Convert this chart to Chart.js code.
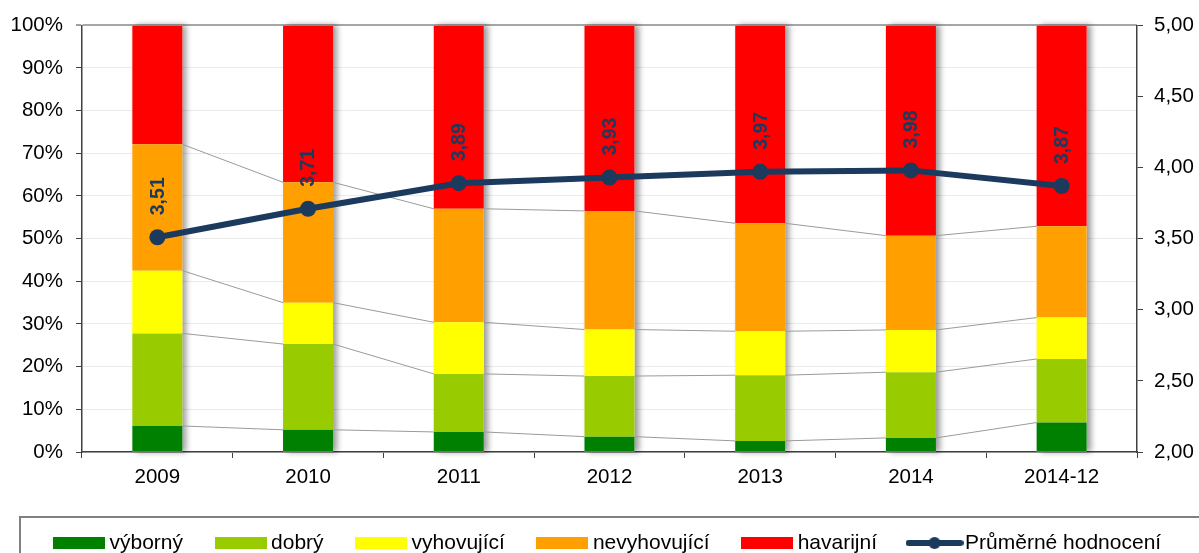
<!DOCTYPE html>
<html>
<head>
<meta charset="utf-8">
<script src="https://cdn.jsdelivr.net/npm/chart.js@4/dist/chart.umd.min.js"></script>
<style>
  html, body { margin: 0; padding: 0; background: #fff; }
</style>
</head>
<body>
<canvas id="myChart" width="1199" height="553"></canvas>
<script>
// data (percent of each year's stack)
var categories = ['2009', '2010', '2011', '2012', '2013', '2014', '2014-12'];
var vyborny = [6.1, 5.2, 4.7, 3.6, 2.6, 3.3, 6.9];
var dobry = [21.7, 20.1, 13.6, 14.2, 15.4, 15.4, 14.9];
var vyhovujici = [14.7, 9.7, 12.1, 10.9, 10.3, 9.9, 9.7];
var nevyhovujici = [29.6, 28.2, 26.6, 27.8, 25.3, 22.1, 21.4];
var havarijni = [27.9, 36.8, 43.0, 43.5, 46.4, 49.3, 47.1];
var prumer = [3.51, 3.71, 3.89, 3.93, 3.97, 3.98, 3.87];
// axis ranges: [min, max, step]
var pctAxis = [0, 100, 10];
var avgAxis = [2, 5, 0.5];

var FONT = '"Liberation Sans", Arial, sans-serif';
var NAVY = '#1c3a5e';
var LEGEND_SHIFT = 11.5;

function comma(v) { return v.toFixed(2).replace('.', ','); }

// legend swatches
function swatch(color) {
  var c = document.createElement('canvas');
  c.width = 52; c.height = 12;
  var g = c.getContext('2d');
  g.fillStyle = color;
  g.fillRect(0, 0, 52, 12);
  return c;
}
function lineSwatch(color) {
  var c = document.createElement('canvas');
  c.width = 58; c.height = 16;
  var g = c.getContext('2d');
  g.strokeStyle = color; g.fillStyle = color;
  g.lineWidth = 6; g.lineCap = 'round';
  g.beginPath(); g.moveTo(3, 8); g.lineTo(55, 8); g.stroke();
  g.beginPath(); g.arc(29, 8, 6, 0, Math.PI * 2); g.fill();
  return c;
}

// soft shadow to the right of each stacked column
var barShadow = {
  id: 'barShadow',
  beforeDatasetsDraw: function(chart) {
    var ctx = chart.ctx;
    var first = chart.getDatasetMeta(0).data;
    var last = chart.getDatasetMeta(4).data;
    ctx.save();
    ctx.shadowColor = 'rgba(0,0,0,0.4)';
    ctx.shadowBlur = 6;
    ctx.shadowOffsetX = 4;
    ctx.fillStyle = '#fff';
    first.forEach(function(el, i) {
      var top = last[i].y;
      ctx.fillRect(el.x - el.width / 2, top, el.width, el.base - top);
    });
    ctx.restore();
  }
};

// thin grey series lines between the columns, under the average line
var seriesLines = {
  id: 'seriesLines',
  beforeDatasetDraw: function(chart, args) {
    if (args.meta.type !== 'line') return;
    var ctx = chart.ctx;
    ctx.save();
    ctx.strokeStyle = '#9a9a9a';
    ctx.lineWidth = 1;
    for (var d = 0; d < 4; d++) {
      var bars = chart.getDatasetMeta(d).data;
      for (var i = 0; i < bars.length - 1; i++) {
        var a = bars[i], b = bars[i + 1];
        ctx.beginPath();
        ctx.moveTo(a.x + a.width / 2, a.y);
        ctx.lineTo(b.x - b.width / 2, b.y);
        ctx.stroke();
      }
    }
    ctx.restore();
  }
};

// rotated value labels over the line points + legend frame
var valueLabels = {
  id: 'valueLabels',
  afterLayout: function(chart) {
    // nudge the legend row to the right like the original
    chart.legend.left += LEGEND_SHIFT;
    chart.legend.right += LEGEND_SHIFT;
  },
  afterDatasetsDraw: function(chart) {
    var ctx = chart.ctx;
    var meta = chart.getDatasetMeta(5);
    ctx.save();
    ctx.font = 'bold 19.5px ' + FONT;
    ctx.fillStyle = NAVY;
    ctx.textAlign = 'left';
    ctx.textBaseline = 'middle';
    meta.data.forEach(function(pt, i) {
      ctx.save();
      ctx.translate(pt.x + 1, pt.y - 22);
      ctx.rotate(-Math.PI / 2);
      ctx.fillText(comma(prumer[i]), 0, 0);
      ctx.restore();
    });
    ctx.restore();
  },
  afterDraw: function(chart) {
    var lg = chart.legend, ctx = chart.ctx;
    ctx.save();
    ctx.strokeStyle = '#808080';
    ctx.lineWidth = 2;
    ctx.strokeRect(lg.left - LEGEND_SHIFT + 10, lg.top + 22, chart.width, 60);
    ctx.restore();
  }
};

var ctx = document.getElementById('myChart').getContext('2d');
var barCommon = { yAxisID: 'y', order: 1, barPercentage: 0.332, categoryPercentage: 1, borderWidth: 0 };

var myChart = new Chart(ctx, {
  data: {
    labels: categories,
    datasets: [
      Object.assign({ type: 'bar', label: 'výborný', data: vyborny, backgroundColor: '#008000' }, barCommon),
      Object.assign({ type: 'bar', label: 'dobrý', data: dobry, backgroundColor: '#99cc00' }, barCommon),
      Object.assign({ type: 'bar', label: 'vyhovující', data: vyhovujici, backgroundColor: '#ffff00' }, barCommon),
      Object.assign({ type: 'bar', label: 'nevyhovující', data: nevyhovujici, backgroundColor: '#ffa000' }, barCommon),
      Object.assign({ type: 'bar', label: 'havarijní', data: havarijni, backgroundColor: '#ff0000' }, barCommon),
      {
        type: 'line', label: 'Průměrné hodnocení', data: prumer, yAxisID: 'y2', order: 0,
        borderColor: NAVY, backgroundColor: NAVY, borderWidth: 6,
        pointRadius: 8, pointHoverRadius: 8, pointBackgroundColor: NAVY, pointBorderWidth: 0,
        tension: 0
      }
    ]
  },
  options: {
    responsive: false,
    animation: false,
    devicePixelRatio: 1,
    layout: { padding: { top: 13, left: 10, right: 5, bottom: 0 } },
    font: { family: FONT },
    plugins: {
      tooltip: { enabled: false },
      legend: {
        position: 'bottom',
        align: 'start',
        maxHeight: 58,
        labels: {
          color: '#000',
          font: { size: 21, family: FONT },
          padding: 37.5,
          usePointStyle: true,
          pointStyleWidth: 40,
          boxHeight: 12,
          generateLabels: function(chart) {
            var items = Chart.defaults.plugins.legend.labels.generateLabels(chart);
            items.sort(function(a, b) { return a.datasetIndex - b.datasetIndex; });
            items.forEach(function(it) {
              var ds = chart.data.datasets[it.datasetIndex];
              it.pointStyle = ds.type === 'line' ? lineSwatch(ds.borderColor) : swatch(ds.backgroundColor);
            });
            return items;
          }
        }
      }
    },
    scales: {
      x: {
        stacked: true,
        offset: true,
        grid: { offset: true, drawOnChartArea: false, tickLength: 6, tickColor: '#404040' },
        border: { color: '#404040', width: 1.5 },
        ticks: { color: '#000', font: { size: 20.5, family: FONT }, padding: 7, maxRotation: 0, autoSkip: false },
        afterFit: function(scale) { scale.height = 43; }
      },
      y: {
        stacked: true,
        position: 'left',
        min: pctAxis[0], max: pctAxis[1],
        ticks: {
          stepSize: pctAxis[2], color: '#000', padding: 13,
          font: { size: 20.5, family: FONT },
          callback: function(v) { return v + '%'; }
        },
        grid: {
          color: function(c) { return c.tick && c.tick.value === 100 ? '#a6a6a6' : '#ebebeb'; },
          lineWidth: function(c) { return c.tick && c.tick.value === 100 ? 2 : 1; },
          tickColor: '#404040', tickLength: 6, tickWidth: 1
        },
        border: { color: '#404040', width: 1.5 },
        afterFit: function(scale) { scale.width = 72; }
      },
      y2: {
        position: 'right',
        min: avgAxis[0], max: avgAxis[1],
        ticks: {
          stepSize: avgAxis[2], color: '#000', padding: 11,
          font: { size: 20.5, family: FONT },
          callback: function(v) { return comma(v); }
        },
        grid: { drawOnChartArea: false, tickColor: '#404040', tickLength: 6 },
        border: { color: '#404040', width: 1.5 },
        afterFit: function(scale) { scale.width = 57; }
      }
    }
  },
  plugins: [barShadow, seriesLines, valueLabels]
});
</script>
</body>
</html>
